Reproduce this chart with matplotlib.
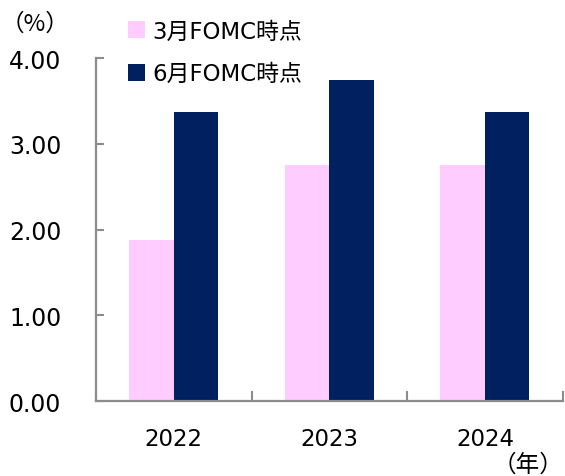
import numpy as np
import matplotlib.pyplot as plt
from matplotlib.ticker import FixedLocator, NullFormatter

plt.rcParams['font.family'] = ['DejaVu Sans', 'Noto Sans CJK JP']

years = ['2022', '2023', '2024']
march_fomc = [1.875, 2.75, 2.75]
june_fomc = [3.375, 3.75, 3.375]
yticks = [0.0, 1.0, 2.0, 3.0, 4.0]

PINK = '#FFCCFF'
NAVY = '#002060'
GREY = '#8c8c8c'

fig = plt.figure(figsize=(5.65, 4.77), dpi=100)
ax = fig.add_axes([0.170, 0.157, 0.826, 0.719])

x = np.arange(len(years))
w = 0.286
ax.bar(x - w / 2, march_fomc, w, color=PINK, label='3月FOMC時点')
ax.bar(x + w / 2, june_fomc, w, color=NAVY, label='6月FOMC時点')

ax.set_xlim(-0.5, len(years) - 0.5)
ax.set_ylim(0, 4.0)

# 軸の設定
ax.set_yticks(yticks)
ax.set_yticklabels([f'{v:.2f}' for v in yticks], fontsize=17)
ax.xaxis.set_major_locator(FixedLocator(np.arange(len(years) + 1) - 0.5))
ax.xaxis.set_major_formatter(NullFormatter())
ax.xaxis.set_minor_locator(FixedLocator(x))
ax.set_xticklabels(years, minor=True, fontsize=16.5)
ax.tick_params(axis='x', which='major', direction='in', length=7, color=GREY, width=1.5)
ax.tick_params(axis='x', which='minor', length=0, pad=19)
ax.tick_params(axis='y', direction='in', length=6, color=GREY, width=1.5, pad=25)

for s in ['top', 'right']:
    ax.spines[s].set_visible(False)
for s in ['left', 'bottom']:
    ax.spines[s].set_color(GREY)
    ax.spines[s].set_linewidth(1.6)

fig.text(0.062, 0.950, '（%）', fontsize=17, ha='center', va='center',
         family=['Noto Sans CJK JP', 'DejaVu Sans'])
fig.text(0.998, 0.025, '（年）', fontsize=17, ha='right', va='center',
         family=['Noto Sans CJK JP', 'DejaVu Sans'])

leg = fig.legend(loc='upper left', bbox_to_anchor=(0.19, 1.0), frameon=False,
                 handlelength=0.75, handleheight=0.75, handletextpad=0.3,
                 labelspacing=0.85, prop={'family': ['DejaVu Sans', 'Noto Sans CJK JP'], 'size': 16.5})

fig.savefig('out.png', dpi=100)
